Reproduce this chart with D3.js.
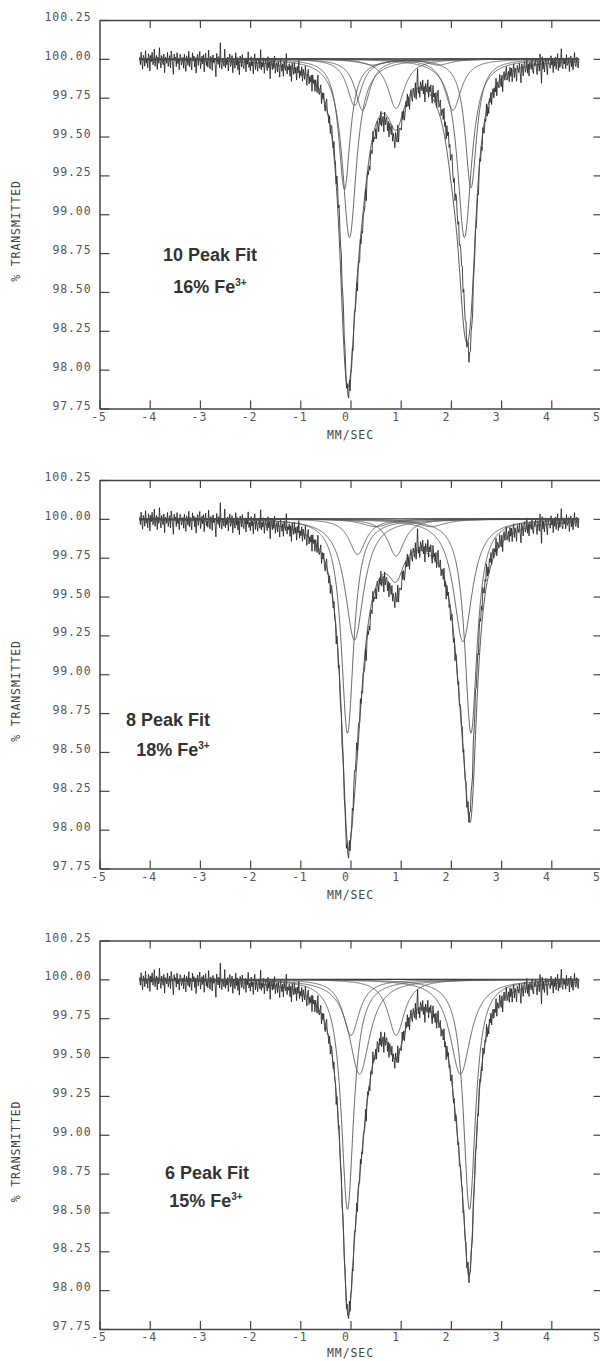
<!DOCTYPE html>
<html>
<head>
<meta charset="utf-8">
<script src="https://cdn.jsdelivr.net/npm/d3@7"></script>
<style>
  body { margin: 0; background: #fff; }
  svg { display: block; }
</style>
</head>
<body>
<svg id="chart"></svg>
<script>
// Axis ticks
var velocityTicks = [-5, -4, -3, -2, -1, 0, 1, 2, 3, 4, 5];
var transTicks = [100.25, 100.00, 99.75, 99.50, 99.25, 99.00, 98.75, 98.50, 98.25, 98.00, 97.75];

// Panel captions
var fitNames = ["10 Peak Fit", "8 Peak Fit", "6 Peak Fit"];
var fe3Share = ["16%", "18%", "15%"];

// Fitted lines of each panel: [centre mm/s, depth %, full width mm/s]
var peaks10 = [
  [-0.02, 1.15, 0.34],
  [ 2.27, 1.15, 0.34],
  [-0.12, 0.84, 0.28],
  [ 2.40, 0.83, 0.28],
  [ 0.08, 0.30, 0.36],
  [ 2.04, 0.33, 0.40],
  [ 0.24, 0.33, 0.36],
  [ 0.91, 0.32, 0.40],
  [ 0.45, 0.04, 0.60],
  [ 1.75, 0.04, 0.60]
];
var peaks8 = [
  [-0.06, 1.38, 0.30],
  [ 2.40, 1.38, 0.30],
  [ 0.08, 0.78, 0.45],
  [ 2.24, 0.79, 0.45],
  [ 0.14, 0.23, 0.40],
  [ 0.91, 0.24, 0.40],
  [ 0.50, 0.05, 0.70],
  [ 1.60, 0.05, 0.70]
];
var peaks6 = [
  [-0.06, 1.48, 0.30],
  [ 2.37, 1.48, 0.29],
  [ 0.18, 0.61, 0.50],
  [ 2.19, 0.61, 0.50],
  [ 0.01, 0.36, 0.40],
  [ 0.91, 0.36, 0.40]
];

// Velocity span of the recorded channels
var channelStart = -4.2, channelEnd = 4.55;

// Scatter of the recorded spectrum about the 6 peak fit, in 0.01 %
var residuals = [
  2,-3,5,-1,-6,3,1,-4,6,-2,0,-5,4,2,-7,3,-1,5,-3,-2,
  7,-4,1,3,-6,2,-2,8,-1,-5,3,0,-3,4,-8,2,1,-2,5,-4,
  -1,3,-5,6,2,-3,-9,4,0,2,-4,5,-2,1,-6,4,3,-3,-1,2,
  -5,4,-2,-7,3,1,-3,6,-4,2,-1,-6,5,0,3,-4,2,-8,1,4,
  -3,2,6,-5,-1,3,-2,4,-7,1,5,-3,0,-4,7,-2,-5,3,1,-6,
  4,-1,2,-3,-10,5,1,-2,3,-4,12,-1,-5,2,0,-3,8,-4,1,-2,
  3,-6,2,5,-3,-1,4,-7,2,0,-4,6,-2,3,-5,1,-8,4,2,-3,
  5,-2,-4,1,3,-6,2,-1,7,-3,0,-5,4,-2,1,-7,3,6,-4,2,
  -1,-5,3,2,-3,9,-4,1,-2,4,-6,0,3,-1,-4,5,-2,2,-9,3,
  1,-3,4,-2,6,-5,0,2,-4,3,-1,-7,5,1,-3,2,-6,4,0,-2,
  9,-4,1,-1,3,-5,2,-8,4,0,-3,5,-2,2,-6,3,-1,7,-4,1,
  -2,4,-5,3,0,-3,6,-1,-6,2,5,-4,1,-2,3,-7,4,-1,2,-5,
  3,0,-4,8,-2,-3,1,5,-6,2,-1,4,-3,-5,2,6,-2,0,-4,3,
  -6,2,4,-1,-3,5,-2,1,-8,3,2,-4,6,-1,-2,4,-5,1,3,-3,
  2,-1,-5,4,0,-2,7,-4,1,-3,3,-6,2,5,-2,-1,4,-7,2,1,
  -4,6,-2,1,-5,3,-1,-3,5,-7,2,4,-2,0,-6,3,1,-4,8,-1,
  0,-3,2,-6,4,1,-5,3,-2,6,-4,-1,2,-8,5,-3,1,3,-5,2,
  -7,3,1,-2,5,-4,2,-1,-6,4,0,-3,7,-5,2,1,-2,-4,6,-1,
  3,-5,-2,4,-1,6,-3,2,-7,1,4,-2,-5,3,0,-4,5,-6,2,13,
  -3,1,-6,4,2,-2,5,-4,1,-9,3,0,-2,6,-5,2,-1,4,-3,-7,
  5,-2,1,-4,3,-6,2,7,-3,-1,4,-5,0,2,-3,6,-4,1,-8,3,
  -1,4,-3,2,-5,1,6,-2,-4,3,-7,2,5,-1,-3,4,-6,0,2,-2,
  4,-6,3,-1,-2,5,-5,2,8,-4,1,-3,3,-2,-6,4,0,-1,5,-4,
  -2,1,-7,3,4,-3,2,-5,6,-1,-4,2,-2,7,-3,1,-5,3,-1,4,
  -5,2,3,-4,1,-2,6,-6,2,0,-3,5,-1,-4,3,-8,2,4,-2,1,
  6,-3,-1,2,-5,4,-2,3,-6,1,5,-4,2,-1,-7,3,0,-2,4,-3,
  -9,3,1,-5,2,4,-3,-1,6,-4,2,-6,3,1,-2,5,-3,-5,2,0,
  4,-2,-6,3,1,-4,7,-1,-12,5,-3,2,-5,1,4,-2,-7,3,0,-1,
  -3,5,-1,2,-6,3,-2,4,-4,1,6,-5,2,-3,0,9,-2,-4,3,-1,
  2,-4,5,-2,-1,3,-6,1,4,-3,2,-5,0,6,-2,-3,3,-1,-4,2
];

var panelPeaks = [peaks10, peaks8, peaks6];

// Layout
var width = 600, height = 1361;
var panelTops = [20, 480, 940.5], plotH = 388.5;
var captionPos = [
  { x1: 210, y1: 260.7, x2: 210, y2: 293 },
  { x1: 168, y1: 725.5, x2: 173, y2: 755.5 },
  { x1: 207, y1: 1178.5, x2: 206, y2: 1206.5 }
];
var monoFont = "'DejaVu Sans Mono', monospace";
var ink = "#444";

var svg = d3.select("#chart")
  .attr("width", width)
  .attr("height", height);

var x = d3.scaleLinear().domain([-5, 5]).range([99.5, 601.5]);

// Lorentzian line shape of one fitted peak
function lorentz(p, v) {
  var hw = p[2] / 2, d = v - p[0];
  return p[1] * hw * hw / (hw * hw + d * d);
}
function absorb(peaks, v) {
  return d3.sum(peaks, function(p) { return lorentz(p, v); });
}

// Recorded spectrum (same for all three panels)
var step = (channelEnd - channelStart) / (residuals.length - 1);
var measured = residuals.map(function(r, i) {
  var v = channelStart + i * step;
  return [v, 100 - absorb(peaks6, v) + r / 100];
});

// Velocity grid for drawing the fitted curves
var grid = d3.range(channelStart, channelEnd + 1e-9, 0.005);

function styleAxis(sel) {
  sel.attr("color", ink)
    .attr("font-family", monoFont)
    .attr("font-size", 11.5);
  sel.select(".domain").attr("stroke-width", 1.5);
  sel.selectAll(".tick line").attr("stroke-width", 1.2);
  sel.selectAll("text")
    .attr("fill", "#555")
    .style("letter-spacing", "0.9px");
}

panelTops.forEach(function(top, k) {
  var peaks = panelPeaks[k];
  var g = svg.append("g");

  var y = d3.scaleLinear().domain([97.75, 100.25]).range([top + plotH, top]);
  var line = d3.line()
    .x(function(d) { return x(d[0]); })
    .y(function(d) { return y(d[1]); });

  // recorded data
  g.append("path")
    .datum(measured)
    .attr("d", line)
    .attr("fill", "none")
    .attr("stroke", "#1a1a1a")
    .attr("stroke-width", 0.8);

  // baseline
  g.append("path")
    .datum([[channelStart, 100], [channelEnd, 100]])
    .attr("d", line)
    .attr("fill", "none")
    .attr("stroke", "#333")
    .attr("stroke-width", 1.1);

  // single peaks
  peaks.forEach(function(p) {
    g.append("path")
      .datum(grid.map(function(v) { return [v, 100 - lorentz(p, v)]; }))
      .attr("d", line)
      .attr("fill", "none")
      .attr("stroke", "#555")
      .attr("stroke-width", 0.9);
  });

  // sum of the fit
  g.append("path")
    .datum(grid.map(function(v) { return [v, 100 - absorb(peaks, v)]; }))
    .attr("d", line)
    .attr("fill", "none")
    .attr("stroke", "#444")
    .attr("stroke-width", 0.9);

  // frame and ticks, all ticks pointing inwards
  g.append("g")
    .attr("transform", "translate(0," + (top + plotH) + ")")
    .call(d3.axisBottom(x).tickValues(velocityTicks)
      .tickSizeInner(-8).tickSizeOuter(0).tickPadding(4.3)
      .tickFormat(function(d) { return String(d); }))
    .call(styleAxis)
    .selectAll("text")
      .attr("dx", function(d) { return d < 0 ? -1 : -5; });

  g.append("g")
    .attr("transform", "translate(0," + top + ")")
    .call(d3.axisTop(x).tickValues(velocityTicks.slice(1, -1))
      .tickSizeInner(-8).tickSizeOuter(0).tickFormat(""))
    .call(styleAxis);

  g.append("g")
    .attr("transform", "translate(" + x(-5) + ",0)")
    .call(d3.axisLeft(y).tickValues(transTicks)
      .tickSizeInner(-10).tickSizeOuter(0).tickPadding(8)
      .tickFormat(d3.format(".2f")))
    .call(styleAxis)
    .selectAll("text")
      .attr("dy", "0.05em");

  g.append("g")
    .attr("transform", "translate(" + x(5) + ",0)")
    .call(d3.axisRight(y).tickValues(transTicks.slice(1, -1))
      .tickSizeInner(-8).tickSizeOuter(0).tickFormat(""))
    .call(styleAxis);

  // axis titles
  g.append("text")
    .attr("x", x(0))
    .attr("y", Math.min(top + plotH + 30.5, height - 4))
    .attr("text-anchor", "middle")
    .attr("font-family", monoFont)
    .attr("font-size", 11.5)
    .style("letter-spacing", "0.9px")
    .attr("fill", "#444")
    .text("MM/SEC");

  g.append("text")
    .attr("transform", "translate(16," + (top + 211) + ") rotate(-90)")
    .attr("text-anchor", "middle")
    .attr("dominant-baseline", "central")
    .attr("font-family", monoFont)
    .attr("font-size", 11.5)
    .style("letter-spacing", "0.9px")
    .attr("fill", "#444")
    .text("% TRANSMITTED");

  // fit captions
  var c = captionPos[k];
  g.append("text")
    .attr("x", c.x1)
    .attr("y", c.y1)
    .attr("text-anchor", "middle")
    .attr("font-family", "'Liberation Sans', Arial, sans-serif")
    .attr("font-weight", "bold")
    .attr("font-size", 18)
    .attr("fill", "#333")
    .text(fitNames[k]);

  var t2 = g.append("text")
    .attr("x", c.x2)
    .attr("y", c.y2)
    .attr("text-anchor", "middle")
    .attr("font-family", "'Liberation Sans', Arial, sans-serif")
    .attr("font-weight", "bold")
    .attr("font-size", 18)
    .attr("fill", "#333");
  t2.append("tspan").text(fe3Share[k] + " Fe");
  t2.append("tspan")
    .attr("font-size", 10)
    .attr("dy", -7)
    .text("3+");
});
</script>
</body>
</html>
